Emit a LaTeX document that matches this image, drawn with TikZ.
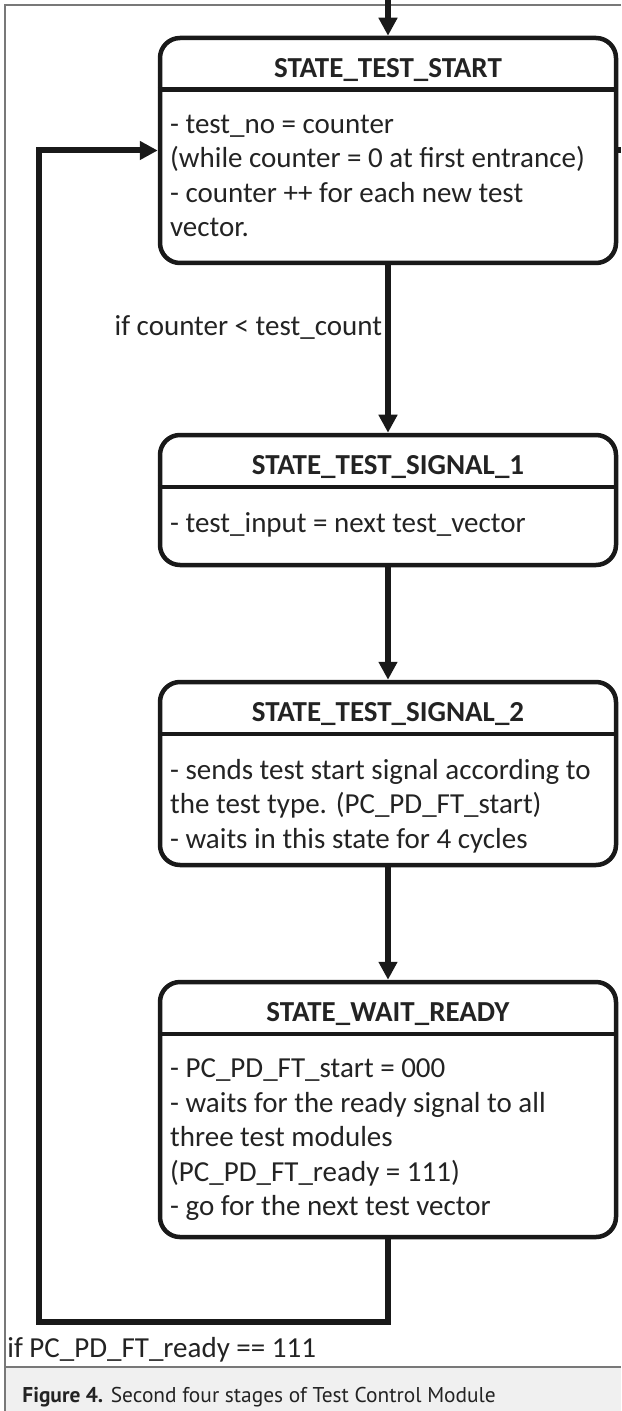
\documentclass[tikz,border=0pt]{standalone}
\usepackage{fontspec}
\setmainfont{Carlito}
\newfontfamily\capfont{PT Sans}
\usetikzlibrary{arrows.meta}

\definecolor{txt}{RGB}{35,35,35}
\definecolor{capbg}{RGB}{240,240,240}
\definecolor{framegray}{RGB}{120,120,120}

\tikzset{
    statebox/.style={draw=black!90, line width=2.25pt, rounded corners=10pt, minimum width=228pt, inner sep=0pt},
    divider/.style={line width=2.25pt, black!90},
    title/.style={font=\fontsize{14.5}{17.25}\selectfont\bfseries, text=txt, anchor=base},
    body/.style={font=\fontsize{14.5}{17.25}\selectfont, text=txt, align=left, anchor=north west, inner sep=0pt},
    cond/.style={font=\fontsize{14.5}{17.25}\selectfont, text=txt, inner sep=1.5pt},
    flow/.style={line width=3pt, black!90, -{Triangle[length=9pt,width=9pt]}},
    wire/.style={line width=3pt, black!90},
}

\begin{document}
\begin{tikzpicture}[x=0.5pt,y=-0.5pt]
    \useasboundingbox (0,0) rectangle (621,1411);

    % frame and caption band
    \fill[capbg] (5,1367) rectangle (621,1411);
    \draw[framegray, line width=0.6pt] (5,1367) -- (621,1367);
    \draw[framegray, line width=0.6pt] (621,5) -- (5,5) -- (5,1411);

    % states
    \node[statebox, minimum height=112.5pt] (start) at (388,150.5) {};
    \node[statebox, minimum height=65pt] (sig1) at (388,500) {};
    \node[statebox, minimum height=91.5pt] (sig2) at (388,773.5) {};
    \node[statebox, minimum height=127.5pt] (wait) at (388,1109.5) {};

    \foreach \s in {start,sig1,sig2,wait}
        \draw[divider] ([yshift=-27pt]\s.north west) -- ([yshift=-27pt]\s.north east);

    \node[title] at ([yshift=-21pt]start.north) {STATE\_TEST\_START};
    \node[title] at ([yshift=-21pt]sig1.north) {STATE\_TEST\_SIGNAL\_1};
    \node[title] at ([yshift=-21pt]sig2.north) {STATE\_TEST\_SIGNAL\_2};
    \node[title] at ([yshift=-21pt]wait.north) {STATE\_WAIT\_READY};

    \node[body] at ([xshift=6pt,yshift=-39.5pt]start.north west)
        {- test\_no = counter\\(while counter = 0 at first entrance)\\- counter ++ for each new test\\vector.};
    \node[body] at ([xshift=6pt,yshift=-39.5pt]sig1.north west)
        {- test\_input = next test\_vector};
    \node[body] at ([xshift=6pt,yshift=-39.5pt]sig2.north west)
        {- sends test start signal according to\\the test type. (PC\_PD\_FT\_start)\\- waits in this state for 4 cycles};
    \node[body] at ([xshift=6pt,yshift=-39.5pt]wait.north west)
        {- PC\_PD\_FT\_start = 000\\- waits for the ready signal to all\\three test modules\\(PC\_PD\_FT\_ready = 111)\\- go for the next test vector};

    % connectors
    \coordinate (entry) at (388,0);
    \coordinate (exit) at (621,152);
    \coordinate (loop) at (39,1322);
    \draw[flow] (entry) -- (start.north);
    \draw[flow] (start) -- node[cond, left, pos=0.37] {if counter < test\_count} (sig1);
    \draw[flow] (sig1) -- (sig2);
    \draw[flow] (sig2) -- (wait);
    \draw[flow] (wait.south) |- (loop) |- (start.west);
    \draw[wire] (start.east) -- (start.east -| exit);

    \node[cond, anchor=base west, inner sep=0pt] (ready) at (7,1357) {if PC\_PD\_FT\_ready == 111};

    % caption
    \node[anchor=base west, inner sep=0pt, text=txt, font=\capfont\fontsize{10.7}{13}\selectfont] (cap) at (22,1402)
        {\textbf{Figure 4.} Second four stages of Test Control Module};
\end{tikzpicture}
\end{document}
